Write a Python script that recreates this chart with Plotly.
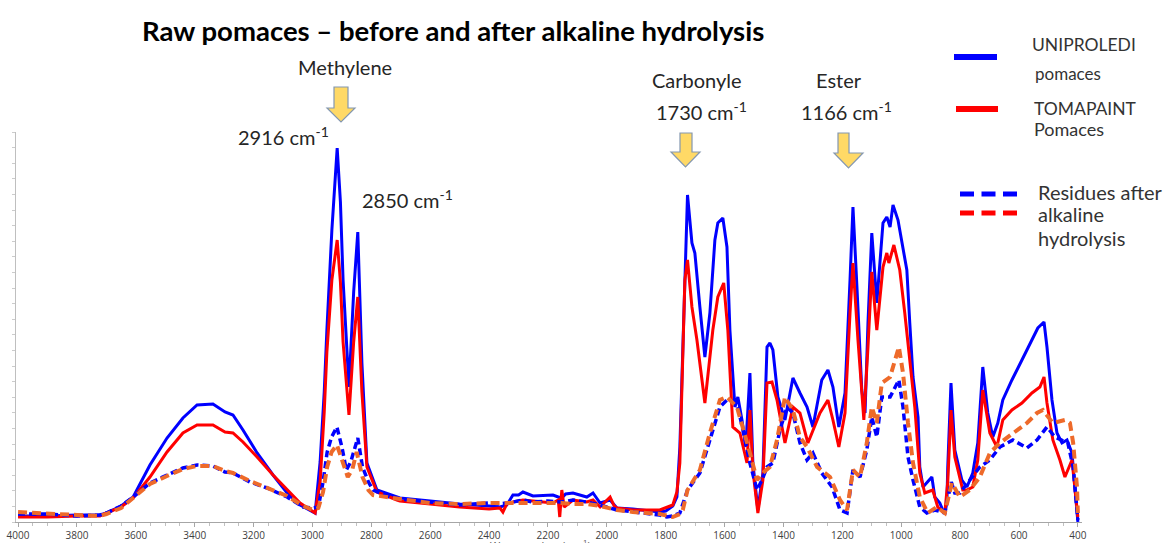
import plotly.graph_objects as go

# ---------------- data (wavenumber cm-1, absorbance in arbitrary units) ----------------
uni_wn = [4000,3900,3800,3722,3700,3650,3609,3552,3494,3440,
          3392,3338,3297,3270,3236,3188,3134,3086,3042,2991,
          2974,2960,2951,2934,2916,2905,2896,2876,2860,2846,
          2832,2815,2781,2713,2703,2600,2500,2400,2363,2340,
          2319,2300,2285,2251,2200,2183,2165,2153,2140,2115,
          2068,2047,2023,1989,1966,1912,1820,1800,1776,1762,
          1752,1742,1726,1711,1701,1684,1667,1650,1633,1623,
          1606,1592,1582,1565,1555,1541,1528,1514,1504,1487,
          1470,1456,1446,1436,1419,1395,1368,1344,1320,1300,
          1270,1249,1232,1212,1191,1174,1164,1150,1134,1123,
          1113,1100,1083,1062,1049,1038,1028,1011,994,981,
          971,960,943,937,926,896,886,869,859,852,
          845,842,831,818,794,777,757,740,723,706,
          689,672,655,624,590,556,536,515,505,488,
          471,454,437,420,410,400]
uni_abs = [6,6,7,7,9,16,25,57,84,104,
           117,118,110,107,92,69,47,29,17,9,
           60,130,192,292,374,320,242,135,230,290,
           159,59,32,25,24,21,18,16,15,17,
           27,27,30,26,27,27,25,24,28,29,
           25,29,19,22,14,13,10,11,16,25,
           75,175,327,279,269,215,165,209,282,299,
           304,275,192,115,125,102,75,149,59,12,
           49,175,179,172,125,102,144,129,115,95,
           142,152,135,95,129,242,315,232,132,109,
           199,289,219,299,305,295,317,302,272,252,
           199,145,105,55,35,45,25,19,12,9,
           19,55,139,72,42,35,49,79,155,109,
           85,99,122,142,162,182,194,200,175,122,
           89,79,82,69,35,0]

toma_wn = [4000,3900,3800,3722,3700,3650,3609,3552,3494,3440,
           3392,3338,3297,3270,3236,3188,3134,3086,3042,2991,
           2974,2960,2951,2934,2916,2905,2896,2876,2860,2846,
           2832,2815,2781,2713,2703,2600,2500,2400,2363,2353,
           2340,2319,2285,2251,2200,2183,2165,2160,2153,2145,
           2115,2068,2047,2023,1989,1975,1966,1912,1820,1776,
           1762,1752,1735,1726,1711,1694,1667,1640,1623,1603,
           1589,1572,1548,1524,1514,1504,1487,1470,1456,1439,
           1422,1395,1368,1344,1317,1276,1249,1232,1212,1191,
           1174,1164,1147,1127,1113,1100,1083,1062,1049,1042,
           1025,1005,988,971,954,937,920,893,876,859,
           852,842,831,818,801,791,777,757,740,723,
           699,675,655,624,590,556,529,515,505,485,
           461,444,420,410,400]
toma_abs = [5,5,6,6,9,15,24,45,70,89,
            97,97,90,89,80,65,47,32,19,9,
            40,110,170,242,282,240,180,107,180,225,
            130,55,30,22,21,18,15,13,14,10,
            18,20,22,21,20,19,22,5,32,15,
            22,20,22,15,25,16,14,12,12,17,
            30,59,242,262,215,182,119,192,225,239,
            192,95,89,59,112,52,9,42,139,140,
            122,79,115,109,79,109,122,102,75,109,
            209,259,182,102,175,250,192,255,269,259,
            277,252,209,159,115,49,29,32,15,10,
            9,40,112,65,42,32,32,35,62,132,
            89,75,102,112,119,129,135,145,119,82,
            62,45,62,35,5]

uni_res_wn = [4000,3900,3800,3722,3700,3650,3609,3552,3494,3440,
              3392,3338,3297,3270,3212,3154,3086,3032,2998,2980,
              2964,2950,2935,2917,2900,2885,2870,2846,2830,2810,
              2794,2737,2703,2600,2500,2400,2363,2319,2285,2251,
              2200,2153,2115,2068,2023,1966,1912,1820,1796,1776,
              1752,1726,1684,1650,1616,1592,1558,1538,1514,1490,
              1473,1456,1436,1412,1388,1368,1344,1320,1300,1270,
              1235,1208,1184,1164,1140,1117,1100,1083,1066,1038,
              1008,994,977,960,937,913,886,852,830,818,
              801,767,733,699,665,621,573,539,505,478,
              454,434,416,400]
uni_res_abs = [8,8,6,7,9,16,25,39,47,54,
               57,56,50,49,40,34,25,15,14,15,
               40,70,85,95,75,52,60,84,55,40,
               32,25,23,20,17,19,18,20,22,20,
               21,20,22,20,17,12,10,7,5,6,
               9,32,49,82,115,122,119,92,59,32,
               42,55,59,92,115,109,79,62,69,49,
               35,12,9,52,45,72,105,85,125,125,
               142,115,65,42,15,9,12,9,40,29,
               29,42,55,62,75,82,74,82,95,85,
               82,79,55,2]

toma_res_wn = [4000,3900,3800,3722,3700,3650,3609,3552,3494,3440,
               3392,3338,3297,3270,3212,3154,3086,3032,2998,2980,
               2964,2950,2935,2917,2900,2880,2865,2850,2830,2810,
               2794,2737,2703,2600,2500,2400,2363,2319,2285,2251,
               2200,2153,2115,2068,2023,1966,1912,1820,1776,1752,
               1742,1726,1684,1650,1616,1592,1558,1538,1514,1490,
               1470,1446,1422,1395,1368,1344,1320,1286,1242,1208,
               1184,1164,1140,1117,1100,1083,1066,1038,1008,994,
               977,960,937,910,879,852,828,801,767,733,
               699,665,621,573,539,519,485,444,427,416,
               403,400]
toma_res_abs = [10,9,7,6,8,14,24,38,46,53,
                56,56,51,49,41,34,26,16,12,14,
                30,55,70,77,62,45,52,70,45,32,
                27,25,23,19,18,19,19,19,20,19,
                19,19,18,18,16,12,10,8,5,8,
                12,32,52,89,122,125,115,95,69,42,
                49,55,82,125,112,85,75,55,45,22,
                12,52,45,79,115,99,139,145,175,149,
                99,59,25,9,15,9,39,25,32,45,
                69,79,89,99,109,112,99,102,99,79,
                35,9]

x_ticks = [4000,3800,3600,3400,3200,3000,2800,2600,2400,2200,2000,1800,1600,1400,1200,1000,800,600,400]

for a, b in [(uni_wn, uni_abs), (toma_wn, toma_abs), (uni_res_wn, uni_res_abs), (toma_res_wn, toma_res_abs)]:
    assert len(a) == len(b), (len(a), len(b))

BLUE = "#0000FF"
RED = "#FF0000"
ORANGE = "#EE6A2A"

# ---------------- figure ----------------
fig = go.Figure()
fig.add_trace(go.Scatter(x=uni_wn, y=uni_abs, mode="lines", name="UNIPROLEDI pomaces",
                         line=dict(color=BLUE, width=3)))
fig.add_trace(go.Scatter(x=toma_wn, y=toma_abs, mode="lines", name="TOMAPAINT Pomaces",
                         line=dict(color=RED, width=3)))
fig.add_trace(go.Scatter(x=uni_res_wn, y=uni_res_abs, mode="lines", name="UNIPROLEDI residues",
                         line=dict(color=BLUE, width=3.5, dash="7px,4px")))
fig.add_trace(go.Scatter(x=toma_res_wn, y=toma_res_abs, mode="lines", name="TOMAPAINT residues",
                         line=dict(color=ORANGE, width=4, dash="9px,5px")))

L, R, T, B = 16, 1082, 132, 522
W, H = R - L, B - T


def xp(px):
    return (px - L) / W


def yp(py):
    return (B - py) / H


FONT = "Lato"
TXT = "#262626"

fig.update_layout(
    width=1168, height=543,
    margin=dict(l=L, r=1168 - R, t=T, b=543 - B, pad=0, autoexpand=False),
    paper_bgcolor="white", plot_bgcolor="white",
    showlegend=False,
    xaxis=dict(range=[4007, 386], tickmode="array", tickvals=x_ticks,
               ticktext=[str(v) for v in x_ticks], automargin=False,
               ticks="outside", ticklen=4, tickcolor="#a6a6a6",
               showline=True, linecolor="#a6a6a6", linewidth=1,
               showgrid=False, zeroline=False,
               tickfont=dict(family="Open Sans", size=10, color="#404040"),
               minor=dict(dtick=50, tick0=400, ticks="outside", ticklen=3, tickcolor="#c0c0c0")),
    yaxis=dict(range=[0, 390], showline=True, linecolor="#bfbfbf", linewidth=1,
               automargin=False,
               ticks="outside", ticklen=3, tickcolor="#cccccc", tick0=0, dtick=15.6,
               showticklabels=False, showgrid=False, zeroline=False),
)

annotations = []


def txt(text, px, py, size, anchor="center", bold=False, color=TXT):
    annotations.append(dict(
        text=("<b>%s</b>" % text) if bold else text,
        x=xp(px), y=yp(py), xref="paper", yref="paper",
        xanchor=anchor, yanchor="middle", showarrow=False,
        font=dict(family=FONT, size=size, color=color)))


txt("Raw pomaces – before and after alkaline hydrolysis", 453, 30, 27.5, bold=True, color="#000000")
txt("Methylene", 345, 67, 20)
txt("2916 cm<sup>-1</sup>", 283, 136, 20)
txt("2850 cm<sup>-1</sup>", 407, 199, 20)
txt("Carbonyle", 697, 80, 20)
txt("1730 cm<sup>-1</sup>", 701, 111, 20)
txt("Ester", 839, 80, 20)
txt("1166 cm<sup>-1</sup>", 846, 111, 20)

# legend text
txt("UNIPROLEDI", 1030, 45, 17.5, anchor="left", color="#333333")
txt("pomaces", 1033, 73, 17, anchor="left", color="#333333")
txt("TOMAPAINT", 1032, 108, 17.5, anchor="left", color="#333333")
txt("Pomaces", 1032, 129, 18, anchor="left", color="#333333")
txt("Residues after", 1036, 192, 20, anchor="left", color="#333333")
txt("alkaline", 1036, 214, 20, anchor="left", color="#333333")
txt("hydrolysis", 1036, 238, 20, anchor="left", color="#333333")

# x-axis title, mostly clipped by the bottom edge as in the original
annotations.append(dict(text="Wavenumber (cm<sup>-1</sup>)", x=xp(540), y=yp(535),
                        xref="paper", yref="paper", xanchor="center", yanchor="top",
                        showarrow=False, font=dict(family="Open Sans", size=11, color="#595959")))

fig.update_layout(annotations=annotations)

shapes = []


def down_arrow(body_l, body_r, head_l, head_r, top, neck, tip):
    cx = (head_l + head_r) / 2
    pts = [(body_l, top), (body_r, top), (body_r, neck), (head_r, neck),
           (cx, tip), (head_l, neck), (body_l, neck)]
    path = "M " + " L ".join("%.5f,%.5f" % (xp(a), yp(b)) for a, b in pts) + " Z"
    shapes.append(dict(type="path", path=path, xref="paper", yref="paper",
                       fillcolor="#FFD966", line=dict(color="#8497B0", width=1.2)))


down_arrow(334, 348, 327, 355, 87, 108, 122)
down_arrow(680, 692, 671, 700, 133, 152, 167)
down_arrow(838, 849, 834, 863, 133, 153, 168)


def leg_line(x0, x1, y, color, width, dash="solid"):
    shapes.append(dict(type="line", xref="paper", yref="paper",
                       x0=xp(x0), x1=xp(x1), y0=yp(y), y1=yp(y),
                       line=dict(color=color, width=width, dash=dash)))


leg_line(954, 997, 57, BLUE, 6)
leg_line(956, 998, 109, RED, 6)
leg_line(960, 1017, 194, BLUE, 5, "14px,7.5px")
leg_line(960, 1017, 213, RED, 5, "14px,7.5px")

fig.update_layout(shapes=shapes)

fig.write_html("out.html")
